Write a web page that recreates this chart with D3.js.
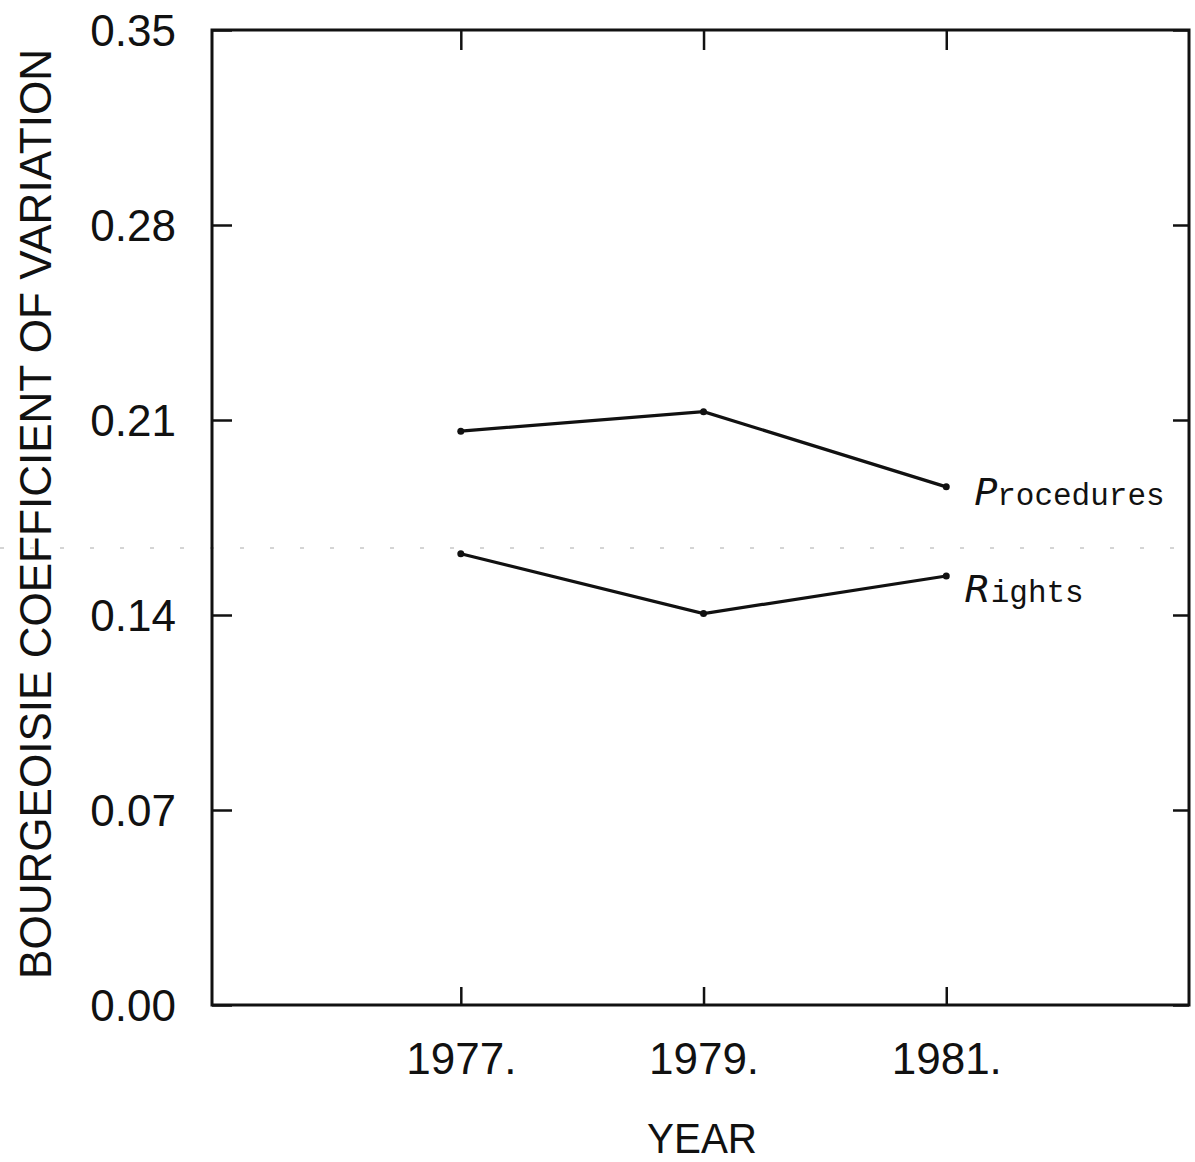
<!DOCTYPE html>
<html>
<head>
<meta charset="utf-8">
<script src="https://cdn.jsdelivr.net/npm/d3@7"></script>
<style>
  body { margin: 0; background: #fff; }
  svg { display: block; }
</style>
</head>
<body>
<svg id="chart" width="1195" height="1162"></svg>
<script>
// data
const years = [1977, 1979, 1981];
const procedures = [0.206, 0.213, 0.186];
const rights = [0.162, 0.1405, 0.154];
const yTicks = [0.0, 0.07, 0.14, 0.21, 0.28, 0.35];
const seriesNames = ["Procedures", "Rights"];

const width = 1195;
const height = 1162;
const margin = { top: 30, right: 6, bottom: 157, left: 212 };
const ink = "#111";

const svg = d3.select("#chart");

const x = d3
  .scaleLinear()
  .domain([1974.95, 1983])
  .range([margin.left, width - margin.right]);

const y = d3
  .scaleLinear()
  .domain([0, 0.35])
  .range([height - margin.bottom, margin.top]);

const tickFont = "'Liberation Sans', Arial, sans-serif";

// scan artifact: faint dotted line across the page
svg
  .append("line")
  .attr("x1", 0)
  .attr("x2", width)
  .attr("y1", 548)
  .attr("y2", 548)
  .attr("stroke", "#aaa")
  .attr("stroke-width", 1)
  .attr("stroke-dasharray", "4 26");

/* frame */
svg
  .append("rect")
  .attr("x", x.range()[0])
  .attr("y", y.range()[1])
  .attr("width", x.range()[1] - x.range()[0])
  .attr("height", y.range()[0] - y.range()[1])
  .attr("fill", "none")
  .attr("stroke", ink)
  .attr("stroke-width", 3);

/* axes with inward ticks */
const axisLeft = svg
  .append("g")
  .attr("transform", `translate(${x.range()[0]},0)`)
  .call(
    d3
      .axisLeft(y)
      .tickValues(yTicks)
      .tickSize(-20)
      .tickPadding(36)
      .tickFormat(d3.format(".2f")),
  );

const axisRight = svg
  .append("g")
  .attr("transform", `translate(${x.range()[1]},0)`)
  .call(d3.axisRight(y).tickValues(yTicks).tickSize(-16).tickFormat(""));

const axisBottom = svg
  .append("g")
  .attr("transform", `translate(0,${y.range()[0]})`)
  .call(
    d3
      .axisBottom(x)
      .tickValues(years)
      .tickSize(-18)
      .tickPadding(38)
      .tickFormat(d => `${d}.`),
  );

const axisTop = svg
  .append("g")
  .attr("transform", `translate(0,${y.range()[1]})`)
  .call(d3.axisTop(x).tickValues(years).tickSize(-20).tickFormat(""));

[axisLeft, axisRight, axisBottom, axisTop].forEach(g => {
  g.select(".domain").remove();
  g.selectAll(".tick line").attr("stroke", ink).attr("stroke-width", 2.5);
  g.selectAll(".tick text")
    .attr("fill", ink)
    .attr("font-family", tickFont)
    .attr("font-size", 44);
});

axisLeft.selectAll(".tick text").attr("dy", "0.35em");
axisBottom.selectAll(".tick text").attr("dy", "0.71em");

/* axis titles */
svg
  .append("text")
  .attr("x", 702)
  .attr("y", 1153)
  .attr("text-anchor", "middle")
  .attr("font-family", tickFont)
  .attr("font-size", 43)
  .attr("fill", ink)
  .attr("textLength", 110)
  .attr("lengthAdjust", "spacingAndGlyphs")
  .text("YEAR");

svg
  .append("text")
  .attr("transform", "translate(51,514) rotate(-90)")
  .attr("text-anchor", "middle")
  .attr("font-family", tickFont)
  .attr("font-size", 45)
  .attr("fill", ink)
  .attr("textLength", 930)
  .attr("lengthAdjust", "spacingAndGlyphs")
  .text("BOURGEOISIE COEFFICIENT OF VARIATION");

/* lines */
const line = d3
  .line()
  .x(d => x(d[0]))
  .y(d => y(d[1]));

const series = [procedures, rights].map((vals, i) => ({
  name: seriesNames[i],
  points: years.map((yr, j) => [yr, vals[j]]),
}));

const groups = svg
  .selectAll(".series")
  .data(series)
  .enter()
  .append("g")
  .attr("class", "series");

groups
  .append("path")
  .attr("d", d => line(d.points))
  .attr("fill", "none")
  .attr("stroke", ink)
  .attr("stroke-width", 3.2);

groups
  .selectAll("circle")
  .data(d => d.points)
  .enter()
  .append("circle")
  .attr("cx", d => x(d[0]))
  .attr("cy", d => y(d[1]))
  .attr("r", 3.5)
  .attr("fill", ink);

/* hand-lettered capitals + typewriter labels */
const labelOffsets = [
  { dx: 28, dy: 18 },
  { dx: 18, dy: 26 },
];

const labels = groups
  .append("text")
  .attr("x", (d, i) => x(years[2]) + labelOffsets[i].dx)
  .attr("y", (d, i) => y(d.points[2][1]) + labelOffsets[i].dy)
  .attr("fill", ink);

labels
  .append("tspan")
  .attr("font-family", "'DejaVu Sans', sans-serif")
  .attr("font-style", "italic")
  .attr("font-size", 38)
  .attr("font-weight", "300")
  .text(d => d.name[0]);

labels
  .append("tspan")
  .attr("dx", 0)
  .attr("font-family", "'Liberation Mono', 'Courier New', monospace")
  .attr("font-size", 31)
  .text(d => d.name.slice(1));
</script>
</body>
</html>
